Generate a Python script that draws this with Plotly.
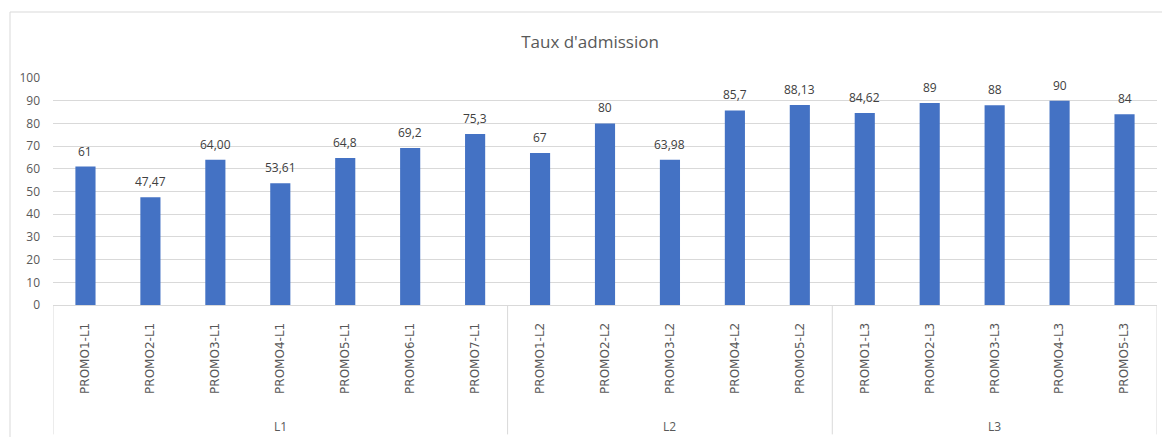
import plotly.graph_objects as go

# Admission rate per promotion, grouped by level
levels = ["L1"] * 7 + ["L2"] * 5 + ["L3"] * 5
promos = [
    "PROMO1-L1", "PROMO2-L1", "PROMO3-L1", "PROMO4-L1", "PROMO5-L1", "PROMO6-L1", "PROMO7-L1",
    "PROMO1-L2", "PROMO2-L2", "PROMO3-L2", "PROMO4-L2", "PROMO5-L2",
    "PROMO1-L3", "PROMO2-L3", "PROMO3-L3", "PROMO4-L3", "PROMO5-L3",
]
rates = [61, 47.47, 64.00, 53.61, 64.8, 69.2, 75.3,
         67, 80, 63.98, 85.7, 88.13,
         84.62, 89, 88, 90, 84]
rate_labels = ["61", "47,47", "64,00", "53,61", "64,8", "69,2", "75,3",
               "67", "80", "63,98", "85,7", "88,13",
               "84,62", "89", "88", "90", "84"]
group_names = ["L1", "L2", "L3"]

TEXT = "#595959"
GRID = "#d9d9d9"

fig = go.Figure(
    go.Bar(
        x=promos,
        y=rates,
        marker=dict(color="#4472C4", line=dict(width=0)),
        width=0.31,
        hoverinfo="x+y",
    )
)

# value labels above each bar
for p, v, lab in zip(promos, rates, rate_labels):
    fig.add_annotation(
        x=p, y=v, xref="x", yref="y", text=lab, showarrow=False,
        yanchor="bottom", yshift=5,
        font=dict(family="Open Sans", size=12, color="#404040"),
    )

# level labels and separators under the category axis
starts = []
pos = 0
for g in group_names:
    n = levels.count(g)
    starts.append((pos, n))
    pos += n

shapes = []
for i, (s, n) in enumerate(starts):
    fig.add_annotation(
        x=s + (n - 1) / 2, y=-0.535, xref="x", yref="paper",
        text=group_names[i], showarrow=False,
        font=dict(family="Open Sans", size=12, color=TEXT),
        yanchor="middle",
    )
    shapes.append(dict(type="line", xref="x", yref="paper",
                       x0=s - 0.5, x1=s - 0.5, y0=0, y1=-0.57,
                       line=dict(color=GRID, width=1)))
shapes.append(dict(type="line", xref="x", yref="paper",
                   x0=len(promos) - 0.5, x1=len(promos) - 0.5, y0=0, y1=-0.57,
                   line=dict(color=GRID, width=1)))

# outer chart frame
shapes.append(dict(type="line", xref="paper", yref="paper",
                   x0=(10 - 53) / 1104, x1=1.01, y0=(305 - 12) / 227, y1=(305 - 12) / 227,
                   line=dict(color=GRID, width=1)))
shapes.append(dict(type="line", xref="paper", yref="paper",
                   x0=(10 - 53) / 1104, x1=(10 - 53) / 1104, y0=(305 - 12) / 227, y1=(305 - 437) / 227,
                   line=dict(color=GRID, width=1)))

fig.update_layout(
    width=1162, height=439,
    margin=dict(l=53, r=5, t=78, b=134),
    paper_bgcolor="white", plot_bgcolor="white",
    showlegend=False,
    title=dict(text="Taux d'admission", x=590 / 1162, xref="container", xanchor="center",
               y=1 - 42 / 439, yref="container", yanchor="middle",
               font=dict(family="Open Sans", size=17, color=TEXT)),
    shapes=shapes,
)
fig.update_xaxes(
    type="category",
    tickangle=-90,
    tickfont=dict(family="DejaVu Sans", size=12, color=TEXT),
    ticklabelstandoff=12,
    showgrid=False,
    showline=True, linecolor=GRID, linewidth=1,
    ticks="",
    range=[-0.5, len(promos) - 0.5],
)
fig.update_yaxes(
    range=[0, 100], dtick=10,
    showgrid=True, gridcolor=GRID, gridwidth=1,
    zeroline=False, showline=False,
    tickfont=dict(family="Open Sans", size=12, color=TEXT),
    ticklabelstandoff=12,
)

fig.write_html("out.html")
